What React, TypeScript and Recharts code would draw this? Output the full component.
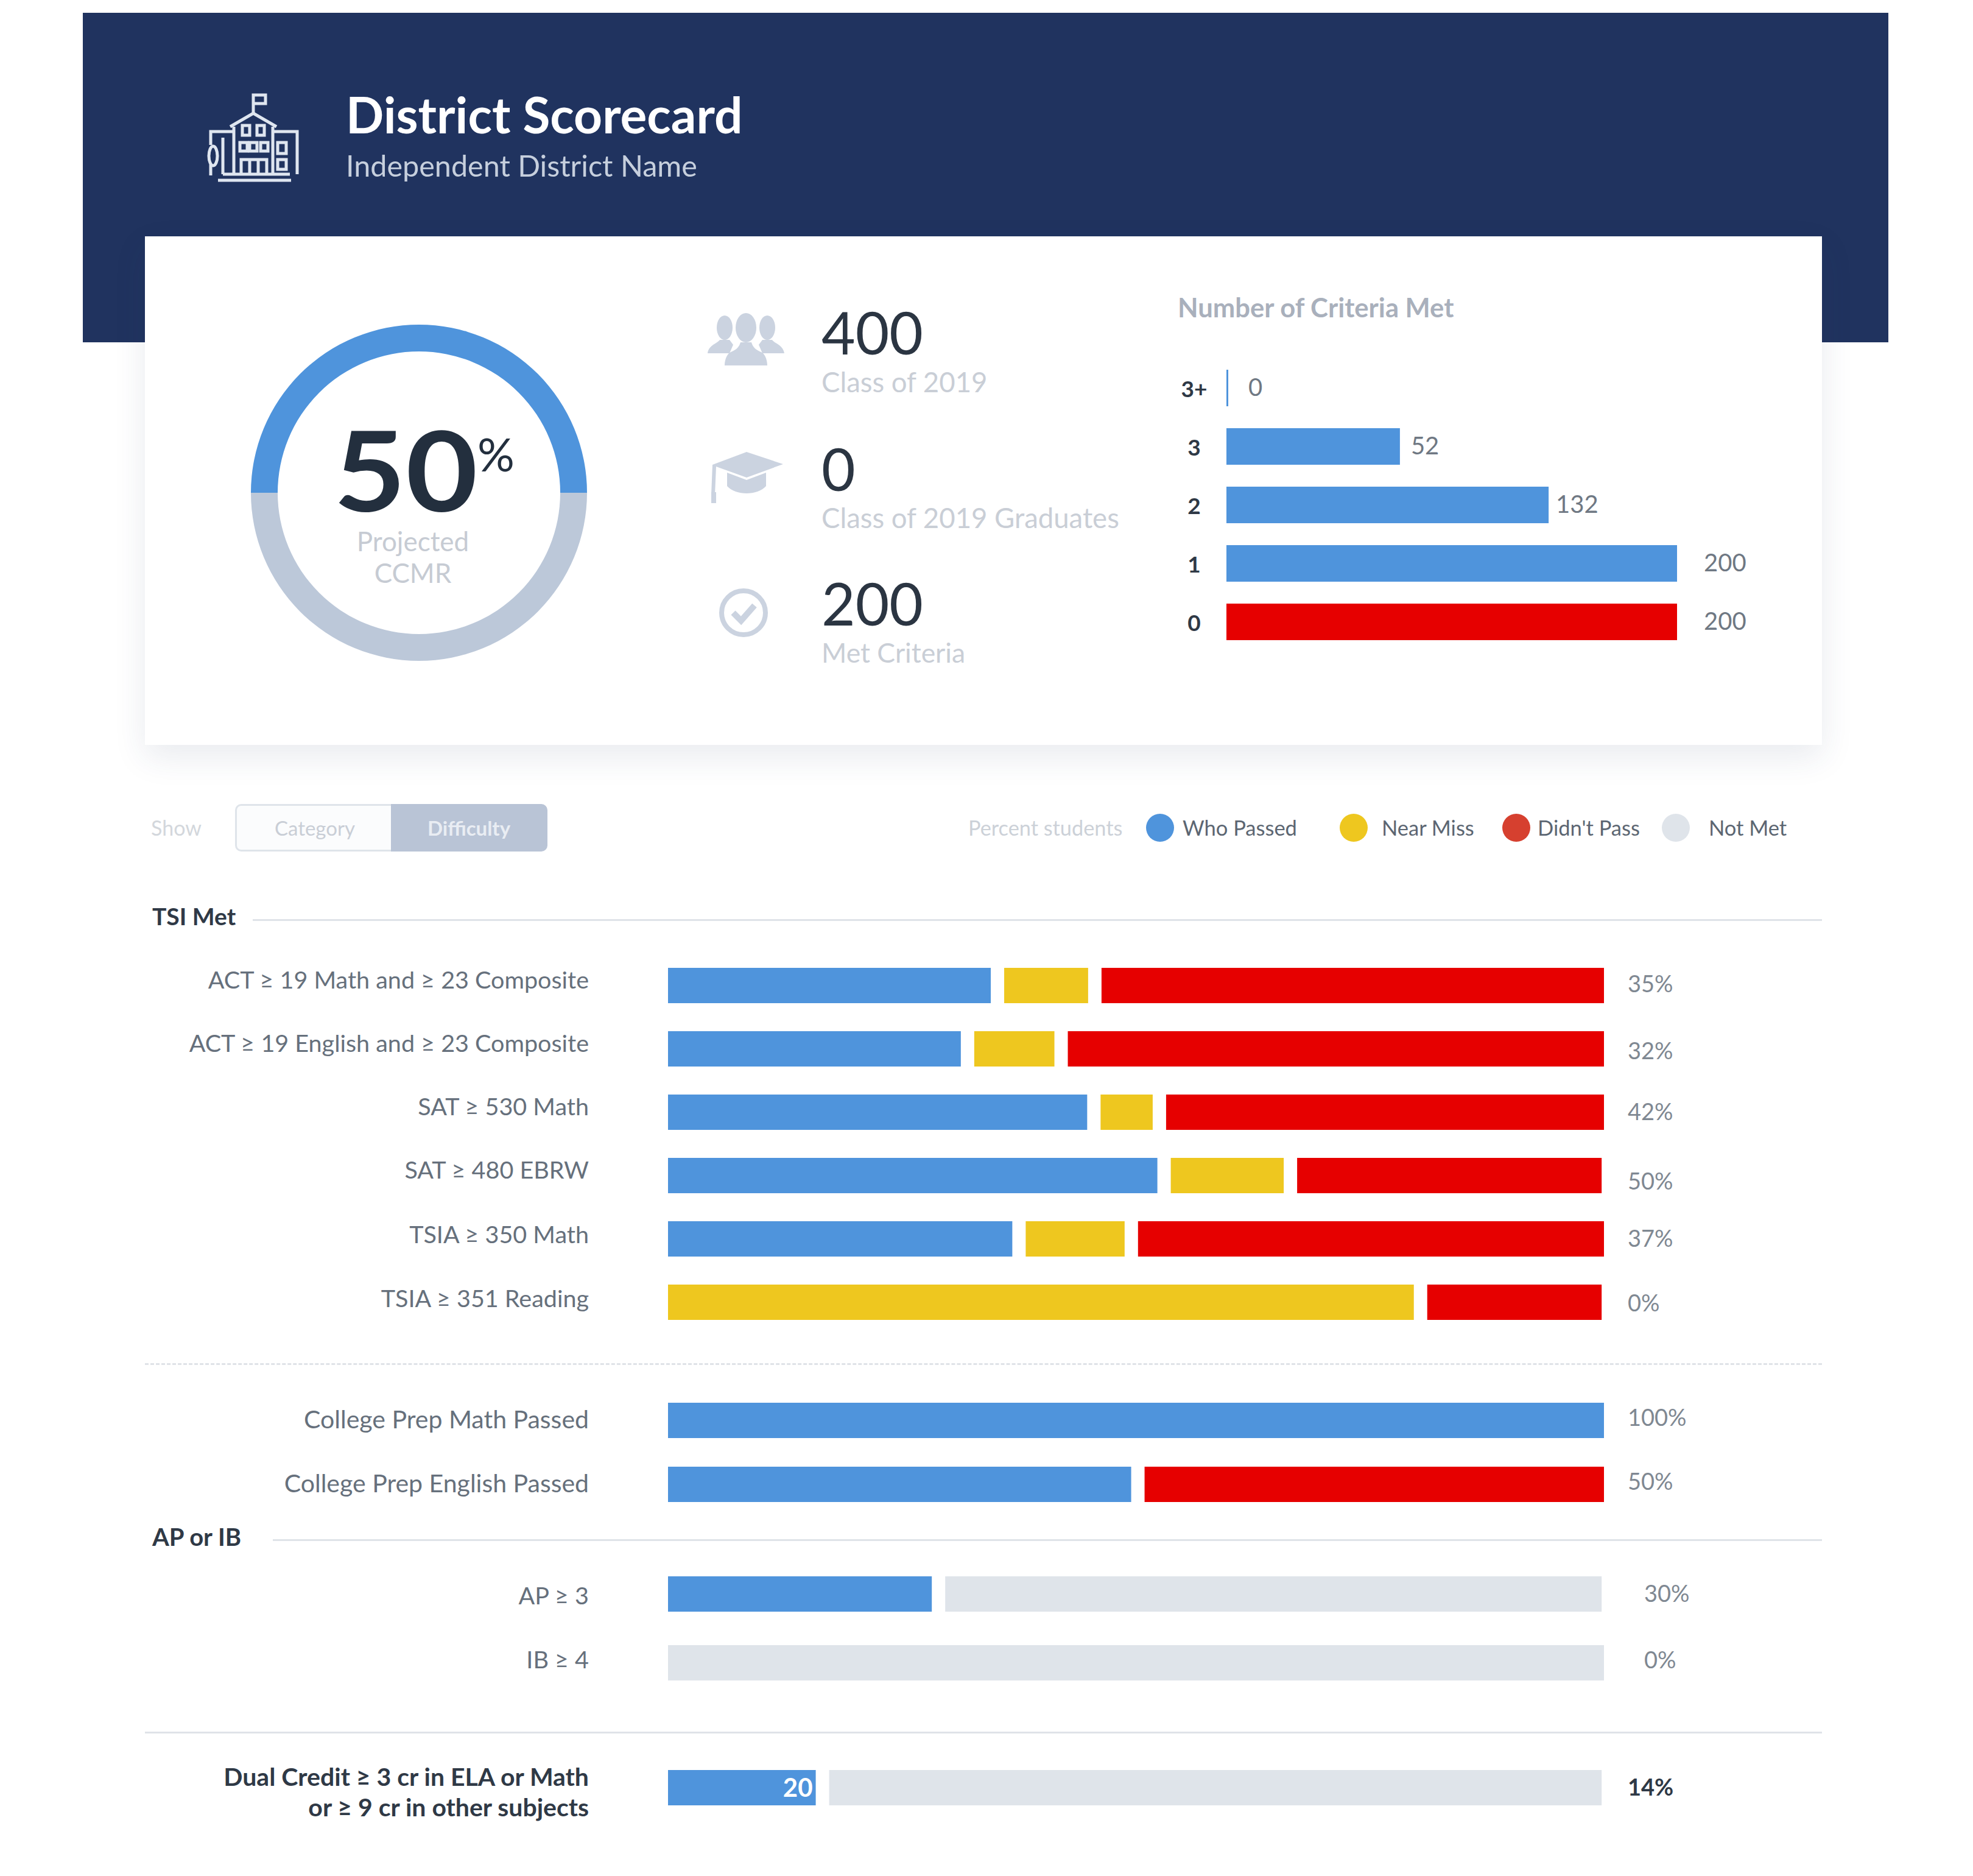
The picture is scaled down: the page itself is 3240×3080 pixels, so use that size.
import { Bar, BarChart, Cell, LabelList, Pie, PieChart, Rectangle, XAxis, YAxis } from "recharts";

const BLUE = "#4f94dc";
const YELLOW = "#eec71f";
const RED = "#e60000";
const GREY = "#dfe4ea";
const NAVY = "#20335f";
const FONT = "Lato, sans-serif";

const projected = [
  { name: "Projected", value: 50, fill: BLUE },
  { name: "Remaining", value: 50, fill: "#bcc8d9" },
];

const criteriaNames = ["3+", "3", "2", "1", "0"];
const criteriaLengths = [0, 77, 143, 200, 200];
const criteriaShown = [0, 52, 132, 200, 200];
const criteriaColors = [BLUE, BLUE, BLUE, BLUE, RED];

const tsiNames = [
  "ACT ≥ 19 Math and ≥ 23 Composite",
  "ACT ≥ 19 English and ≥ 23 Composite",
  "SAT ≥ 530 Math",
  "SAT ≥ 480 EBRW",
  "TSIA ≥ 350 Math",
  "TSIA ≥ 351 Reading",
];
const tsiPassed = [35.2, 32, 45.5, 53, 37.5, 0];
const tsiNear = [10.4, 10, 7, 13.5, 12, 80.4];
const tsiMissed = [54.4, 58, 47.5, 33.25, 50.5, 19.35];
const tsiPct = ["35%", "32%", "42%", "50%", "37%", "0%"];

const prepNames = ["College Prep Math Passed", "College Prep English Passed"];
const prepPassed = [100, 50.2];
const prepMissed = [0, 49.8];
const prepPct = ["100%", "50%"];

const apNames = ["AP ≥ 3", "IB ≥ 4"];
const apPassed = [28.9, 0];
const apNotMet = [70.85, 100];
const apPct = ["30%", "0%"];

const dualNames = ["Dual Credit ≥ 3 cr in ELA or Math\nor ≥ 9 cr in other subjects"];
const dualPassed = [16.5];
const dualNotMet = [83.25];
const dualPct = ["14%"];
const dualCount = [20];

const legendItems = [
  { label: "Who Passed", color: BLUE, dot: 1905, text: 1942 },
  { label: "Near Miss", color: YELLOW, dot: 2223, text: 2269 },
  { label: "Didn't Pass", color: "#d6402f", dot: 2490, text: 2525 },
  { label: "Not Met", color: GREY, dot: 2752, text: 2806 },
];

const SEGMENTS = ["passed", "near", "missed", "notMet"];
const SEGMENT_COLORS = [BLUE, YELLOW, RED, GREY];
const HALF_GAP = 11;

const toRows = (
  names: string[],
  pct: string[],
  passed: number[],
  near: number[] = [],
  missed: number[] = [],
  notMet: number[] = [],
  count: number[] = [],
) =>
  names.map((name, i) => ({
    name,
    pct: pct[i],
    passed: passed[i] ?? 0,
    near: near[i] ?? 0,
    missed: missed[i] ?? 0,
    notMet: notMet[i] ?? 0,
    count: count[i],
  }));

// stacked segment with a white gap towards its neighbours
const segmentShape = (index: number) => (props: any) => {
  const { x, y, width, height, fill, payload } = props;
  if (!width || width <= 0) return <g />;
  const hasBefore = SEGMENTS.slice(0, index).some((k) => payload[k] > 0);
  const hasAfter = SEGMENTS.slice(index + 1).some((k) => payload[k] > 0);
  const left = hasBefore ? HALF_GAP : 0;
  const right = hasAfter ? HALF_GAP : 0;
  return <Rectangle x={x + left} y={y} width={width - left - right} height={height} fill={fill} />;
};

const NameTick = ({ x, y, payload, bold, size, shifts, index }: any) => {
  const lines = String(payload.value).split("\n");
  const shift = shifts[index] ?? 0;
  return (
    <text x={x} y={y + shift} textAnchor="end" fontFamily={FONT} fontSize={size} fontWeight={bold ? 700 : 400} fill={bold ? "#2f3946" : "#66707c"}>
      {lines.map((line, i) => (
        <tspan key={line} x={x} dy={i === 0 ? 13 : 50}>
          {line}
        </tspan>
      ))}
    </text>
  );
};

const PctTick = ({ x, y, payload, bold, shifts, index }: any) => (
  <text x={x} y={y + 13 + (shifts[index] ?? 0)} textAnchor="start" fontFamily={FONT} fontSize={38} fontWeight={bold ? 700 : 400} fill={bold ? "#2f3946" : "#7f8892"}>
    {payload.value}
  </text>
);

interface GroupProps {
  rows: ReturnType<typeof toRows>;
  top: number;
  rowHeight: number;
  pctMargin?: number;
  nameSize?: number;
  nameShifts?: number[];
  pctShifts?: number[];
  bold?: boolean;
  showCount?: boolean;
}

const ScoreGroup = ({ rows, top, rowHeight, pctMargin = 39, nameSize = 39.5, nameShifts = [], pctShifts = [], bold = false, showCount = false }: GroupProps) => (
  <div style={{ position: "absolute", left: 238, top }}>
    <BarChart
      width={2662}
      height={rowHeight * rows.length}
      data={rows}
      layout="vertical"
      margin={{ top: 0, right: 0, bottom: 0, left: 0 }}
      barSize={58}
    >
      <XAxis type="number" domain={[0, 100]} hide />
      <YAxis
        yAxisId="name"
        type="category"
        dataKey="name"
        width={859}
        axisLine={false}
        tickLine={false}
        tickSize={0}
        tickMargin={130}
        interval={0}
        tick={<NameTick bold={bold} size={nameSize} shifts={nameShifts} />}
      />
      <YAxis
        yAxisId="pct"
        orientation="right"
        type="category"
        dataKey="pct"
        width={266}
        axisLine={false}
        tickLine={false}
        tickSize={0}
        tickMargin={pctMargin}
        interval={0}
        tick={<PctTick bold={bold} shifts={pctShifts} />}
      />
      {SEGMENTS.map((key, i) => (
        <Bar
          key={key}
          yAxisId="name"
          dataKey={key}
          stackId="share"
          fill={SEGMENT_COLORS[i]}
          shape={segmentShape(i)}
          isAnimationActive={false}
        >
          {showCount && key === "passed" && (
            <LabelList dataKey="count" position="insideRight" offset={16} fill="#fff" fontFamily={FONT} fontSize={42} fontWeight={700} />
          )}
        </Bar>
      ))}
    </BarChart>
  </div>
);

const criteriaRows = criteriaNames.map((name, i) => ({
  name,
  length: criteriaLengths[i],
  shown: criteriaShown[i],
}));

const CriteriaLabel = ({ x, y, width, height, value }: any) => {
  const gap = value === 0 ? 33 : value >= 200 ? 44 : value > 100 ? 12 : 18;
  return (
    <text x={x + width + gap} y={y + height / 2 + 13} fontFamily={FONT} fontSize={40} fill="#6f7883">
      {value}
    </text>
  );
};

const CriteriaTick = ({ x, y, payload }: any) => (
  <text x={x} y={y + 15} textAnchor="middle" fontFamily={FONT} fontSize={37} fontWeight={700} fill="#2f3946">
    {payload.value}
  </text>
);

const Txt = ({ x, y, size, color, weight = 400, align = "left", stretch = 1, children }: any) => (
  <div
    style={{
      position: "absolute",
      left: align === "center" ? x - 500 : x,
      width: align === "center" ? 1000 : undefined,
      textAlign: align,
      top: y,
      transform: `translateY(-50%) scaleX(${stretch})`,
      transformOrigin: "left center",
      whiteSpace: "nowrap",
      fontFamily: FONT,
      fontSize: size,
      fontWeight: weight,
      color,
      lineHeight: 1,
    }}
  >
    {children}
  </div>
);

const Rule = ({ x, y, right = 2992, dashed = false }: any) => (
  <div style={{ position: "absolute", left: x, top: y, width: right - x, borderTop: `3px ${dashed ? "dashed" : "solid"} #dfe3e8` }} />
);

const SchoolIcon = () => (
  <svg style={{ position: "absolute", left: 338, top: 150 }} width={156} height={154} viewBox="0 0 156 154" fill="none" stroke="#dfe6f0" strokeWidth={5}>
    <path d="M78 38V6h20v14H78" />
    <path d="M40 58 78 36l38 22" />
    <path d="M46 58v78M110 58v78" />
    <path d="M46 66H8v22M110 66h40v70" />
    <path d="M8 120v18M28 76v60" />
    <ellipse cx="12" cy="106" rx="7" ry="16" />
    <rect x="60" y="56" width="12" height="16" />
    <rect x="84" y="56" width="12" height="16" />
    <rect x="56" y="84" width="12" height="14" />
    <rect x="72" y="84" width="12" height="14" />
    <rect x="90" y="84" width="12" height="14" />
    <rect x="118" y="84" width="14" height="18" />
    <rect x="118" y="112" width="14" height="16" />
    <path d="M58 136v-24h42v24M72 112v24M86 112v24" />
    <path d="M20 146h120M28 136h110" />
  </svg>
);

const PeopleIcon = () => (
  <svg style={{ position: "absolute", left: 1160, top: 514 }} width={130} height={88} viewBox="0 0 130 88" fill="#cbd3e0">
    <ellipse cx="30" cy="24" rx="13" ry="20" />
    <path d="M2 66c2-14 16-16 20-22h16l6 8-6 14z" />
    <ellipse cx="100" cy="24" rx="13" ry="20" />
    <path d="M128 66c-2-14-16-16-20-22H92l-6 8 6 14z" />
    <ellipse cx="65" cy="24" rx="17" ry="24" />
    <path d="M30 86c0-6 2-18 10-22 8-3 14-8 16-16h18c2 8 8 13 16 16 8 4 10 16 10 22z" />
  </svg>
);

const CapIcon = () => (
  <svg style={{ position: "absolute", left: 1166, top: 742 }} width={122} height={86} viewBox="0 0 122 86" fill="#cbd3e0">
    <path d="M60 0 120 20 60 42 10 24 8 70h-6l2-49z" />
    <path d="M28 34 60 46l32-12v22c-14 16-50 16-64 0z" />
    <rect x="2" y="66" width="8" height="18" />
  </svg>
);

const CheckIcon = () => (
  <svg style={{ position: "absolute", left: 1177, top: 962 }} width={88} height={88} viewBox="0 0 88 88" fill="none" stroke="#cbd3e0">
    <circle cx="44" cy="44" r="36" strokeWidth={8} />
    <path d="M27 44 40 57 62 32" strokeWidth={10} />
  </svg>
);

const App = () => {
  return (
    <div style={{ position: "absolute", left: 0, top: 0, width: 3240, height: 3080, background: "#fff", overflow: "hidden" }}>
      <div style={{ position: "absolute", left: 136, top: 21, width: 2965, height: 541, background: NAVY }} />
      <div
        style={{
          position: "absolute",
          left: 238,
          top: 388,
          width: 2754,
          height: 835,
          background: "#fff",
          boxShadow: "0 20px 50px rgba(40,60,100,0.1)",
        }}
      />
      <SchoolIcon />
      <Txt x={568} y={187} size={82} weight={700} color="#fff">District Scorecard</Txt>
      <Txt x={568} y={271} size={48.5} color="#c6cfdd">Independent District Name</Txt>

      <div style={{ position: "absolute", left: 388, top: 509 }}>
        <PieChart width={600} height={600} margin={{ top: 0, right: 0, bottom: 0, left: 0 }}>
          <Pie
            data={projected}
            dataKey="value"
            cx="50%"
            cy="50%"
            startAngle={180}
            endAngle={-180}
            innerRadius={232}
            outerRadius={276}
            stroke="none"
            isAnimationActive={false}
          />
        </PieChart>
      </div>
      <Txt x={548} y={770} size={182} weight={700} stretch={1.12} color="#232f3e">50</Txt>
      <Txt x={784} y={745} size={76} color="#232f3e">%</Txt>
      <Txt x={678} y={888} size={44} align="center" color="#c6cbd3">Projected</Txt>
      <Txt x={678} y={940} size={44} align="center" color="#c6cbd3">CCMR</Txt>

      <PeopleIcon />
      <CapIcon />
      <CheckIcon />
      <Txt x={1349} y={545} size={96} color="#2b3542">400</Txt>
      <Txt x={1349} y={627} size={45.5} color="#c9ced6">Class of 2019</Txt>
      <Txt x={1349} y={769} size={96} color="#2b3542">0</Txt>
      <Txt x={1349} y={850} size={45.5} color="#c9ced6">Class of 2019 Graduates</Txt>
      <Txt x={1349} y={990} size={96} color="#2b3542">200</Txt>
      <Txt x={1349} y={1071} size={44.5} color="#c9ced6">Met Criteria</Txt>

      <Txt x={1934} y={505} size={43.6} weight={700} color="#a9b0bc">Number of Criteria Met</Txt>
      <div style={{ position: "absolute", left: 1900, top: 589 }}>
        <BarChart
          width={1054}
          height={480}
          data={criteriaRows}
          layout="vertical"
          margin={{ top: 0, right: 200, bottom: 0, left: 0 }}
          barSize={60}
        >
          <XAxis type="number" domain={[0, 200]} hide />
          <YAxis
            type="category"
            dataKey="name"
            width={114}
            axisLine={false}
            tickLine={false}
            tickSize={0}
            tickMargin={53}
            interval={0}
            tick={<CriteriaTick />}
          />
          <Bar dataKey="length" minPointSize={3} isAnimationActive={false}>
            {criteriaRows.map((row, i) => (
              <Cell key={row.name} fill={criteriaColors[i]} />
            ))}
            <LabelList dataKey="shown" content={<CriteriaLabel />} />
          </Bar>
        </BarChart>
      </div>

      <Txt x={248} y={1359} size={34} color="#d3d7dc">Show</Txt>
      <div style={{ position: "absolute", left: 386, top: 1320, width: 256, height: 78, boxSizing: "border-box", border: "3px solid #dfe4ea", borderRight: "none", borderRadius: "10px 0 0 10px", background: "#fbfcfd" }} />
      <div style={{ position: "absolute", left: 642, top: 1320, width: 257, height: 78, background: "#b9c4d6", borderRadius: "0 10px 10px 0" }} />
      <Txt x={517} y={1359} size={33} align="center" color="#c9ced6">Category</Txt>
      <Txt x={770} y={1359} size={33} weight={700} align="center" color="#e9edf3">Difficulty</Txt>

      <Txt x={1590} y={1359} size={34.3} color="#ccd1d8">Percent students</Txt>
      {legendItems.map((item) => (
        <div key={item.label}>
          <div style={{ position: "absolute", left: item.dot - 23, top: 1336, width: 46, height: 46, borderRadius: "50%", background: item.color }} />
          <Txt x={item.text} y={1359} size={34.5} color="#5c6672">{item.label}</Txt>
        </div>
      ))}

      <Txt x={250} y={1504} size={39} weight={700} color="#2f3946">TSI Met</Txt>
      <Rule x={415} y={1509} />
      <ScoreGroup
        rows={toRows(tsiNames, tsiPct, tsiPassed, tsiNear, tsiMissed)}
        top={1566}
        rowHeight={104}
        nameShifts={[-8, -8, -8, -8, -6, -5]}
        pctShifts={[-2, 4, 0, 10, 0, 2]}
      />
      <Rule x={238} y={2238} dashed />
      <ScoreGroup
        rows={toRows(prepNames, prepPct, prepPassed, [], prepMissed)}
        top={2279}
        rowHeight={105}
        nameSize={41}
        pctShifts={[-4, -4]}
      />
      <Txt x={250} y={2523} size={40} weight={700} color="#2f3946">AP or IB</Txt>
      <Rule x={448} y={2527} />
      <ScoreGroup
        rows={toRows(apNames, apPct, apPassed, [], [], apNotMet)}
        top={2560}
        rowHeight={113}
        pctMargin={66}
        nameShifts={[4, -4]}
        pctShifts={[0, -4]}
      />
      <Rule x={238} y={2843} />
      <ScoreGroup
        rows={toRows(dualNames, dualPct, dualPassed, [], [], dualNotMet, dualCount)}
        top={2880}
        rowHeight={110}
        nameSize={41}
        nameShifts={[-16]}
        bold
        showCount
      />
    </div>
  );
};

export default App;
